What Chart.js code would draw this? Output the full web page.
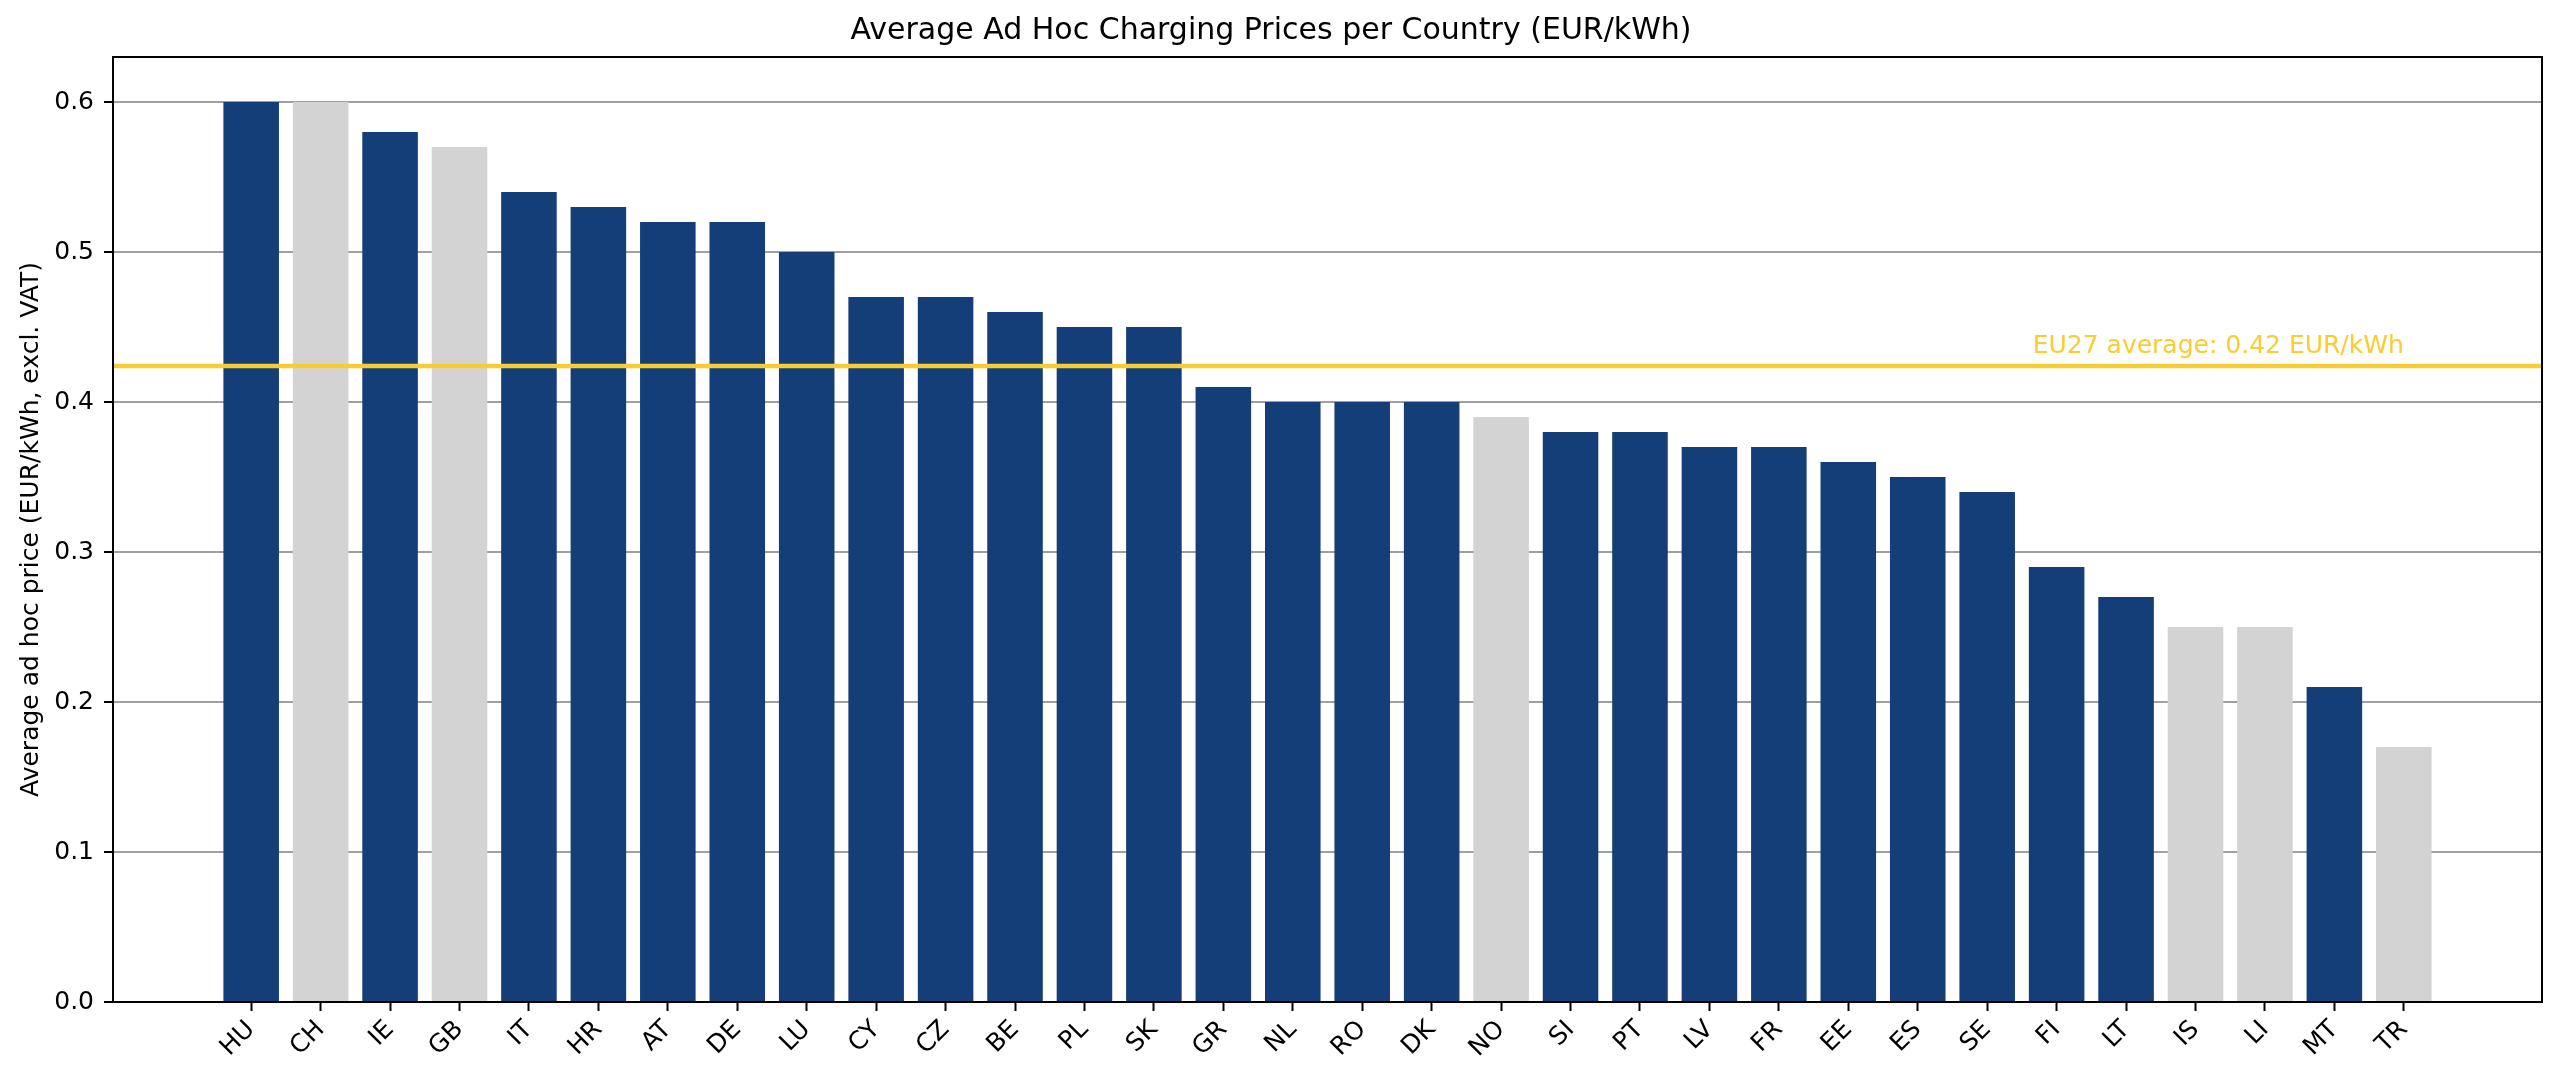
<!DOCTYPE html>
<html>
<head>
<meta charset="utf-8">
<title>Average Ad Hoc Charging Prices per Country</title>
<script src="https://cdn.jsdelivr.net/npm/chart.js@4"></script>
<style>
    body { margin: 0; background: #fff; }
    #wrap { width: 2560px; height: 1084px; }
</style>
</head>
<body>
<div id="wrap"><canvas id="priceChart" width="2560" height="1084"></canvas></div>
<script>
const countries = ['HU', 'CH', 'IE', 'GB', 'IT', 'HR', 'AT', 'DE', 'LU', 'CY', 'CZ', 'BE', 'PL', 'SK', 'GR', 'NL',
    'RO', 'DK', 'NO', 'SI', 'PT', 'LV', 'FR', 'EE', 'ES', 'SE', 'FI', 'LT', 'IS', 'LI', 'MT', 'TR'];
const prices = [0.60, 0.60, 0.58, 0.57, 0.54, 0.53, 0.52, 0.52, 0.50, 0.47, 0.47, 0.46, 0.45, 0.45, 0.41, 0.40,
    0.40, 0.40, 0.39, 0.38, 0.38, 0.37, 0.37, 0.36, 0.35, 0.34, 0.29, 0.27, 0.25, 0.25, 0.21, 0.17];
// 1 = EU27 member, 0 = non-EU (grey bar)
const isEU = [1, 0, 1, 0, 1, 1, 1, 1, 1, 1, 1, 1, 1, 1, 1, 1,
    1, 1, 0, 1, 1, 1, 1, 1, 1, 1, 1, 1, 0, 0, 1, 0];
const EU_AVG = 0.424;
const avgLabel = 'EU27 average: 0.42 EUR/kWh';
const yTicks = [0.0, 0.1, 0.2, 0.3, 0.4, 0.5, 0.6];
const xMin = -1.99, xMax = 32.99;
const yMax = 0.63;

const BLUE = '#133e77';
const GREY = '#d3d3d3';
const GOLD = '#f9cd2f';
const FONT = 'DejaVu Sans';

const frameAndAverage = {
    id: 'frameAndAverage',
    afterDatasetsDraw(chart) {
        const { ctx, chartArea, scales } = chart;
        const y = scales.y.getPixelForValue(EU_AVG);
        ctx.save();
        ctx.strokeStyle = GOLD;
        ctx.lineWidth = 4.5;
        ctx.beginPath();
        ctx.moveTo(chartArea.left, y);
        ctx.lineTo(chartArea.right, y);
        ctx.stroke();
        ctx.fillStyle = GOLD;
        ctx.font = '25px "' + FONT + '"';
        ctx.textAlign = 'right';
        ctx.textBaseline = 'alphabetic';
        ctx.fillText(avgLabel, scales.x.getPixelForValue(countries.length - 1), y - 13);
        ctx.restore();
    },
    afterDraw(chart) {
        const { ctx, chartArea } = chart;
        ctx.save();
        ctx.strokeStyle = '#000';
        ctx.lineWidth = 2;
        ctx.strokeRect(chartArea.left, chartArea.top, chartArea.right - chartArea.left, chartArea.bottom - chartArea.top);
        ctx.restore();
    }
};

Chart.defaults.font.family = FONT;
Chart.defaults.color = '#000';

new Chart(document.getElementById('priceChart'), {
    type: 'bar',
    data: {
        datasets: [{
            data: countries.map((c, i) => ({ x: i, y: prices[i] })),
            backgroundColor: isEU.map(e => e ? BLUE : GREY),
            borderWidth: 0,
            categoryPercentage: 1,
            barPercentage: 0.8
        }]
    },
    options: {
        responsive: false,
        animation: false,
        devicePixelRatio: 1,
        layout: { padding: { left: 0, right: 18, top: 0, bottom: 0 } },
        plugins: {
            legend: { display: false },
            tooltip: { enabled: false },
            title: {
                display: true,
                text: 'Average Ad Hoc Charging Prices per Country (EUR/kWh)',
                font: { size: 30, weight: 'normal' },
                padding: { top: 13, bottom: 8 }
            }
        },
        scales: {
            x: {
                type: 'linear',
                min: xMin,
                max: xMax,
                offset: false,
                afterBuildTicks: (scale) => {
                    scale.ticks = countries.map((c, i) => ({ value: i }));
                },
                afterFit: (scale) => { scale.height = 82; },
                grid: { display: true, offset: false, drawOnChartArea: false, drawTicks: true,
                    tickLength: 9, tickColor: '#000', tickWidth: 2 },
                border: { display: true, color: '#000', width: 2 },
                ticks: {
                    autoSkip: false,
                    minRotation: 45,
                    maxRotation: 45,
                    padding: 4,
                    font: { size: 25 },
                    callback: (v) => countries[v]
                }
            },
            y: {
                min: 0,
                max: yMax,
                afterBuildTicks: (scale) => {
                    scale.ticks = yTicks.map(v => ({ value: v }));
                },
                afterFit: (scale) => { scale.width = 113; },
                grid: { color: '#a0a0a0', lineWidth: 2, drawTicks: true, tickLength: 9,
                    tickColor: '#000', tickWidth: 2 },
                border: { display: true, color: '#000', width: 2 },
                ticks: {
                    padding: 10,
                    font: { size: 25 },
                    callback: (v) => v.toFixed(1)
                },
                title: {
                    display: true,
                    text: 'Average ad hoc price (EUR/kWh, excl. VAT)',
                    font: { size: 25 },
                    padding: { top: 16, bottom: 0 }
                }
            }
        }
    },
    plugins: [frameAndAverage]
});
</script>
</body>
</html>
